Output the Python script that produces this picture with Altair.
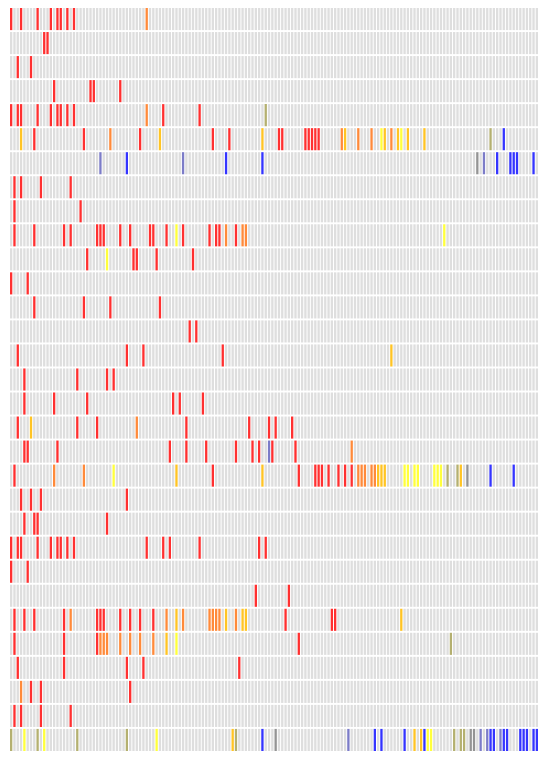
import altair as alt
import pandas as pd

N_COLS = 160
N_ROWS = 31

# colour codes: R red, O orange, G gold, Y yellow, V olive, A grey, S slate, B blue
row_cells = [
    "R0 R3 R8 R12 R14 R15 R17 R19 O41",
    "R10 R11",
    "R2 R6",
    "R13 R24 R25 R33",
    "R0 R2 R3 R8 R12 R14 R15 R17 R19 O41 R46 R57 V77",
    "G3 R7 R22 O30 R39 G45 R61 R66 G76 R81 R82 R89 R90 R91 R92 R93 O100 G101 O105 O109 Y112 G113 O115 G117 Y118 G120 G125 V145 B149",
    "S27 B35 S52 B65 B76 A141 S143 B147 B151 B152 B153 B158",
    "R1 R3 R9 R18",
    "R1 R21",
    "R1 R7 R16 R18 R26 R27 R28 R33 R36 R42 R43 R47 Y50 R52 R60 R62 R63 O65 R68 O70 O71 Y131",
    "R23 Y29 R37 R38 R44 R55",
    "R0 R5",
    "R7 R22 R30 R45",
    "R54 R56",
    "R2 R35 R40 R64 G115",
    "R4 R20 R29 R31",
    "R4 R13 R23 R49 R51 R58",
    "R2 G6 R20 R26 O38 R53 R72 R78 R80 R85",
    "R4 R5 R14 R48 R53 R59 R68 R73 R75 S78 R79 R86 O103",
    "R1 O13 O22 Y31 G50 R61 G76 R87 R92 R93 R94 R96 R99 R101 R103 O105 O106 O107 O109 O110 G111 G112 G113 Y119 Y120 Y122 Y123 Y128 Y129 Y130 V132 V135 G136 A138 B145 B152",
    "R3 R6 R9 R35",
    "R4 R7 R8 R29",
    "R0 R2 R3 R8 R12 R14 R15 R17 R19 R41 R46 R48 R57 R75 R77",
    "R0 R5",
    "R74 R84",
    "R1 R4 R7 R16 O18 R26 R27 R28 R33 R36 R39 R43 O47 G50 O52 O60 O61 O62 O63 G65 O68 G70 G71 R83 R97 R98 G118",
    "R1 R16 R26 O27 O28 O29 O33 O36 O39 O43 G47 Y50 R87 V133",
    "R2 R16 R35 R40 R69",
    "O3 R6 R9 R36",
    "R1 R3 R9 R18",
    "V0 Y4 V8 Y10 V20 V35 Y44 G67 V68 B76 A80 S102 B110 B112 B119 G122 G124 B125 Y126 Y127 V134 V136 V137 A139 A140 S142 S144 B145 B146 S148 B149 B150 B154 B155 B156 B158 B159",
]

code_names = ["bg", "R", "O", "G", "Y", "V", "A", "S", "B"]
code_colors = ["#dedede", "#ff3030", "#ff8a3a", "#ffc424", "#ffff3c",
               "#b4b070", "#949494", "#7c7cc8", "#3434ff"]

records = []
for r, s in enumerate(row_cells):
    colored = {}
    for tok in s.split():
        colored[int(tok[1:])] = tok[0]
    for c in range(N_COLS):
        records.append({"row": r, "col": c, "code": colored.get(c, "bg")})
df = pd.DataFrame(records)

chart = alt.Chart(df).mark_rect().encode(
    x=alt.X("col:O", scale=alt.Scale(domain=list(range(N_COLS)), paddingInner=0.3, paddingOuter=0), axis=None),
    y=alt.Y("row:O", scale=alt.Scale(domain=list(range(N_ROWS)), paddingInner=0.08, paddingOuter=0), axis=None),
    color=alt.Color("code:N", scale=alt.Scale(domain=code_names, range=code_colors), legend=None),
).properties(
    width=528, height=743,
    padding={"left": 2, "top": 0, "right": 0, "bottom": 0},
).configure_view(stroke=None)

chart.save("out.html", embed_options={"renderer": "svg", "actions": False})
